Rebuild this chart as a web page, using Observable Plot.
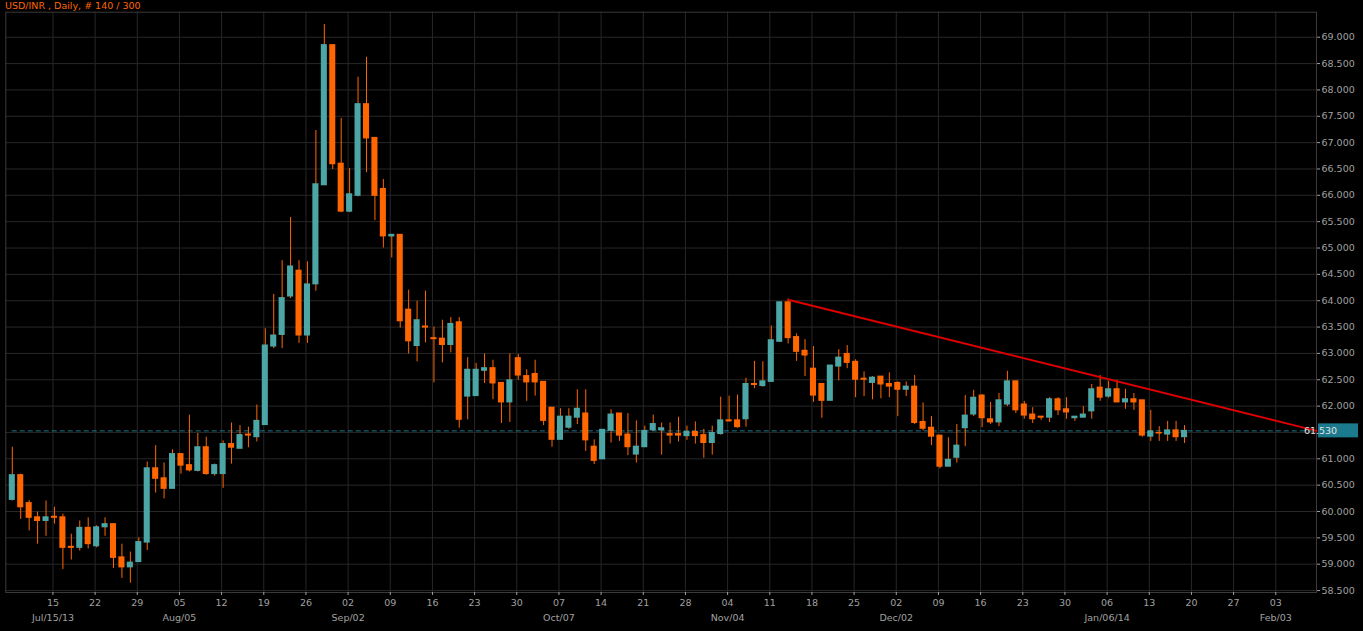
<!DOCTYPE html>
<html><head><meta charset="utf-8">
<script src="https://cdn.jsdelivr.net/npm/d3@7"></script>
<script src="https://cdn.jsdelivr.net/npm/@observablehq/plot@0.6"></script>
<style>
html,body{margin:0;padding:0;background:#000;overflow:hidden}
#wrap{position:relative;width:1363px;height:631px}
#title{position:absolute;left:5px;top:0px;font-family:"DejaVu Sans";font-size:9.5px;line-height:12px;color:#ff6600;white-space:pre;z-index:2}
</style></head><body>
<div id="wrap"><div id="title">USD/INR , Daily, # 140 / 300</div></div>
<script>
// Daily candles, trading days from Mon Jul 08 2013 to Fri Jan 17 2014 (index 0..139)
const opens = [60.22,60.69,60.16,59.89,59.82,59.90,59.89,59.33,59.31,59.69,
59.34,59.70,59.76,59.13,58.94,59.04,59.41,60.82,60.63,60.43,
61.09,60.88,60.77,61.22,60.71,60.71,61.28,61.19,61.46,61.41,
61.64,63.13,63.35,64.08,64.57,63.34,64.31,66.19,68.85,66.60,
65.69,65.99,67.73,67.09,66.12,65.22,65.25,63.83,63.14,63.51,
63.29,63.28,63.16,63.59,62.18,62.19,62.67,62.72,62.44,62.07,
62.91,62.57,62.61,62.46,61.97,61.36,61.59,61.78,61.86,61.23,
60.99,61.53,61.86,61.46,61.08,61.22,61.54,61.54,61.47,61.47,
61.43,61.51,61.45,61.30,61.47,61.73,61.73,61.75,62.42,62.38,
62.46,63.22,63.97,63.31,63.05,62.71,62.42,62.10,62.75,62.99,
62.84,62.52,62.44,62.56,62.42,62.44,62.31,62.37,61.70,61.59,
61.44,60.85,61.02,61.58,61.84,62.20,61.75,61.69,62.03,62.47,
62.03,61.84,61.80,61.78,62.13,61.94,61.77,61.78,61.90,62.35,
62.18,62.32,62.07,62.13,62.11,61.42,61.49,61.46,61.54,61.41];
const highs = [61.22,60.71,60.21,59.99,60.20,60.08,59.95,59.57,59.82,59.88,
59.73,59.88,59.77,59.38,59.23,59.50,60.94,61.25,60.92,61.17,
61.10,61.83,61.48,61.41,60.90,61.34,61.68,61.63,61.60,62.02,
63.47,64.12,64.76,65.58,64.76,64.74,67.23,69.24,68.85,67.46,
66.51,68.24,68.62,67.09,66.30,65.25,65.25,64.20,63.99,64.18,
63.50,63.63,63.68,63.68,62.92,62.81,62.99,62.87,62.44,62.99,
62.98,62.69,62.87,62.46,61.97,61.95,61.95,62.31,62.31,61.36,
61.55,61.93,61.86,61.86,61.72,61.62,61.83,61.68,61.68,61.79,
61.62,61.70,61.56,61.62,62.17,62.19,62.21,62.53,62.85,62.84,
63.52,63.97,64.03,63.37,63.26,63.13,62.42,62.77,63.07,63.15,
62.88,62.65,62.56,62.56,62.63,62.46,62.46,62.58,62.06,61.80,
61.44,61.40,61.65,62.20,62.30,62.22,62.07,62.24,62.66,62.47,
62.09,61.97,61.80,62.16,62.16,62.16,61.80,61.99,62.41,62.58,
62.47,62.49,62.32,62.24,62.11,61.92,61.61,61.71,61.71,61.63];
const lows = [60.20,59.85,59.63,59.38,59.53,59.76,58.90,59.08,59.25,59.29,
59.31,59.53,58.92,58.73,58.64,59.03,59.26,60.35,60.24,60.43,
60.71,60.75,60.75,60.69,60.67,60.44,60.90,61.19,61.21,61.32,
61.64,63.09,63.09,64.04,63.19,63.19,64.18,66.19,66.49,65.67,
65.67,65.97,66.43,65.52,65.00,64.81,63.48,62.99,62.84,63.20,
62.44,62.82,63.01,61.58,61.74,62.19,62.43,62.12,61.67,61.69,
62.49,62.09,62.19,61.63,61.22,61.36,61.56,61.65,61.14,60.89,
60.99,61.30,61.33,61.06,60.92,61.21,61.52,61.07,61.28,61.32,
61.35,61.28,61.01,61.07,61.45,61.70,61.58,61.60,62.33,62.36,
62.46,63.22,63.18,62.85,62.56,62.07,61.77,62.10,62.48,62.71,
62.16,62.18,62.12,62.14,62.16,61.80,62.18,61.65,61.53,61.25,
60.81,60.85,60.92,61.23,61.80,61.59,61.65,61.61,61.99,61.86,
61.75,61.67,61.73,61.69,61.82,61.75,61.71,61.78,61.75,62.09,
62.15,62.07,61.94,61.92,61.41,61.33,61.33,61.33,61.33,61.29];
const closes = [60.69,60.08,59.88,59.82,59.89,59.88,59.31,59.31,59.69,59.38,
59.70,59.76,59.12,58.94,59.03,59.42,60.82,60.62,60.43,61.09,
60.87,60.78,61.22,60.71,60.88,61.28,61.21,61.45,61.44,61.72,
63.15,63.34,64.05,64.65,63.34,64.31,66.21,68.85,66.59,65.69,
66.02,67.73,67.08,65.99,65.22,65.25,63.61,63.23,63.63,63.49,
63.27,63.16,63.56,61.74,62.69,62.69,62.72,62.43,62.07,62.49,
62.58,62.45,62.45,61.72,61.36,61.80,61.80,61.95,61.35,60.96,
61.55,61.84,61.44,61.22,61.23,61.53,61.66,61.58,61.44,61.44,
61.51,61.43,61.30,61.49,61.73,61.71,61.60,62.42,62.40,62.47,
63.25,63.97,63.29,63.03,62.96,62.20,62.10,62.77,62.92,62.82,
62.50,62.50,62.54,62.41,62.37,62.31,62.37,61.68,61.57,61.42,
60.85,60.98,61.25,61.82,62.16,61.77,61.69,62.11,62.47,61.92,
61.82,61.75,61.78,62.13,61.92,61.88,61.80,61.84,62.32,62.16,
62.32,62.07,62.13,62.07,61.44,61.52,61.48,61.54,61.41,61.53];

// Weekly (Monday) tick labels, week k = 1..30 (Jul 15 2013 .. Feb 03 2014)
const weekLabels = ["15","22","29","05","12","19","26","02","09","16","23","30","07","14","21","28",
"04","11","18","25","02","09","16","23","30","06","13","20","27","03"];
const monthLabels = ["Jul/15/13","Aug/05","Sep/02","Oct/07","Nov/04","Dec/02","Jan/06/14","Feb/03"];
const monthWeeks = [1,4,8,13,17,21,26,30];
const yTickValues = [58.5,59,59.5,60,60.5,61,61.5,62,62.5,63,63.5,64,64.5,65,65.5,66,66.5,67,67.5,68,68.5,69];
const lastPrice = 61.53;
const trendStartIdx = 92, trendStartVal = 64.02, trendEndVal = 61.53;

const UP = "#4da6a6", DOWN = "#ff6600", GRID = "#272727", AXIS = "#a0a0a0";
const xDomain = [-0.77, 154.65];
const gridOffset = -0.18;

const data = opens.map((o, i) => ({i, o, h: highs[i], l: lows[i], c: closes[i]}));
const weekTicks = weekLabels.map((_, j) => 5 * (j + 1) + gridOffset);
const monthTicks = monthWeeks.map(k => 5 * k + gridOffset);
const labelFor = (ticks, labels) => d => labels[ticks.findIndex(t => Math.abs(t - d) < 1e-6)] ?? "";
const trend = [{i: trendStartIdx, v: trendStartVal}, {i: xDomain[1], v: trendEndVal}];
// the last-price tag covers the 61.500 label
const yLabelTicks = yTickValues.filter(v => Math.abs(v - lastPrice) > 0.1);

const plot = Plot.plot({
  width: 1363, height: 631,
  marginLeft: 5.3, marginRight: 47, marginTop: 11.7, marginBottom: 39,
  x: {domain: xDomain, axis: null},
  y: {domain: [58.463, 69.475], axis: null},
  style: {background: "#000", fontFamily: "DejaVu Sans", fontSize: "9.5px", color: AXIS, overflow: "visible"},
  marks: [
    Plot.ruleY(yTickValues, {stroke: GRID}),
    Plot.ruleX(weekTicks, {stroke: GRID}),
    Plot.frame({stroke: "#3a3a3a"}),
    Plot.axisY({anchor: "right", ticks: yLabelTicks, tickFormat: d3.format(".3f"), tickSize: 3, tickPadding: 2, color: AXIS, label: null}),
    Plot.axisX({anchor: "bottom", ticks: weekTicks, tickFormat: labelFor(weekTicks, weekLabels), tickSize: 3, tickPadding: 4, color: AXIS, label: null}),
    Plot.axisX({anchor: "bottom", ticks: monthTicks, tickFormat: labelFor(monthTicks, monthLabels), tickSize: 0, tickPadding: 22, color: AXIS, label: null}),
    Plot.ruleY([lastPrice], {x1: 0, x2: xDomain[1], stroke: "#1d7b92", strokeDasharray: "5,3"}),
    Plot.ruleX(data, {x: "i", y1: "l", y2: "h", stroke: DOWN, strokeWidth: 1}),
    Plot.rect(data, {
      x1: d => d.i - 0.36, x2: d => d.i + 0.36,
      y1: d => Math.min(d.o, d.c), y2: d => Math.max(d.o, d.c),
      fill: d => d.c > d.o ? UP : DOWN, insetTop: -0.5, insetBottom: -0.5
    }),
    Plot.line(trend, {x: "i", y: "v", stroke: "#dd0000", strokeWidth: 2})
  ]
});
document.getElementById("wrap").appendChild(plot);

// last price tag on the right axis
const yPos = plot.scale("y").apply(lastPrice);
const svg = d3.select(plot);
const tag = svg.append("g");
tag.append("rect").attr("x", 1318).attr("y", yPos - 7).attr("width", 40).attr("height", 14).attr("fill", "#1c7a8e");
tag.append("text").attr("x", 1320.5).attr("y", yPos).attr("dy", "0.35em")
  .attr("fill", "#e2e2e2").attr("font-family", "DejaVu Sans").attr("font-size", "9.5px")
  .text(d3.format(".3f")(lastPrice));
</script>
</body></html>
